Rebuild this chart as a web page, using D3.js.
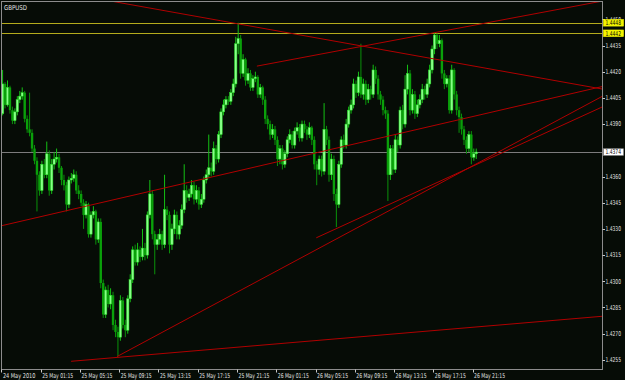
<!DOCTYPE html>
<html>
<head>
<meta charset="utf-8">
<title>GBPUSD M15</title>
<script src="https://d3js.org/d3.v7.min.js"></script>
<style>
  body { margin: 0; background: #060c06; }
  svg text { font-family: "Liberation Sans Narrow", "DejaVu Sans Condensed", sans-serif; font-size: 6.6px; fill: #e2e2e2; }
</style>
</head>
<body>
<script>
// GBPUSD, 15 minute candles from 24 May 2010 21:15
const symbol = "GBPUSD";
const firstBar = "2010-05-24 21:15";
const lastTime = "2010-05-27 10:32";   // time at the right edge of the plot

const opens = [
  1.4396,1.4413,1.4401,1.4411,1.4398,1.4392,1.4397,1.4404,1.4406,1.4408,
  1.4393,1.4387,1.4385,1.4376,1.4369,1.4361,1.4352,1.4367,1.4361,1.4373,
  1.4352,1.4367,1.4370,1.4371,1.4365,1.4358,1.4355,1.4344,1.4358,1.4359,
  1.4361,1.4352,1.4350,1.4345,1.4338,1.4344,1.4327,1.4338,1.4340,1.4324,
  1.4334,1.4299,1.4281,1.4295,1.4287,1.4292,1.4275,1.4271,1.4268,1.4289,
  1.4275,1.4272,1.4290,1.4301,1.4318,1.4311,1.4318,1.4314,1.4319,1.4315,
  1.4338,1.4350,1.4327,1.4321,1.4324,1.4327,1.4321,1.4341,1.4338,1.4321,
  1.4330,1.4338,1.4327,1.4332,1.4341,1.4352,1.4348,1.4350,1.4355,1.4347,
  1.4352,1.4344,1.4347,1.4358,1.4361,1.4365,1.4363,1.4376,1.4370,1.4384,
  1.4397,1.4401,1.4404,1.4403,1.4408,1.4413,1.4436,1.4439,1.4419,1.4427,
  1.4415,1.4419,1.4411,1.4416,1.4417,1.4407,1.4411,1.4404,1.4393,1.4390,
  1.4384,1.4387,1.4381,1.4370,1.4376,1.4367,1.4373,1.4381,1.4384,1.4378,
  1.4386,1.4388,1.4382,1.4390,1.4387,1.4384,1.4388,1.4381,1.4367,1.4364,
  1.4370,1.4363,1.4387,1.4381,1.4361,1.4370,1.4350,1.4344,1.4367,1.4381,
  1.4378,1.4390,1.4398,1.4401,1.4413,1.4408,1.4417,1.4407,1.4413,1.4404,
  1.4410,1.4407,1.4421,1.4416,1.4407,1.4404,1.4398,1.4396,1.4361,1.4376,
  1.4364,1.4381,1.4378,1.4398,1.4390,1.4410,1.4419,1.4398,1.4407,1.4396,
  1.4401,1.4404,1.4410,1.4407,1.4413,1.4421,1.4433,1.4441,1.4436,1.4438,
  1.4419,1.4413,1.4416,1.4398,1.4421,1.4407,1.4398,1.4394,1.4387,1.4381,
  1.4376,1.4384,1.4371,1.4373
];
const highs = [
  1.4421,1.4414,1.4415,1.4412,1.4400,1.4399,1.4406,1.4409,1.4411,1.4409,
  1.4395,1.4408,1.4387,1.4378,1.4371,1.4363,1.4369,1.4370,1.4380,1.4375,
  1.4370,1.4374,1.4376,1.4373,1.4366,1.4361,1.4357,1.4360,1.4362,1.4364,
  1.4363,1.4355,1.4352,1.4347,1.4346,1.4345,1.4340,1.4343,1.4341,1.4336,
  1.4336,1.4301,1.4297,1.4298,1.4296,1.4294,1.4278,1.4274,1.4292,1.4291,
  1.4278,1.4292,1.4304,1.4320,1.4321,1.4322,1.4320,1.4330,1.4322,1.4340,
  1.4358,1.4352,1.4329,1.4327,1.4330,1.4329,1.4361,1.4343,1.4340,1.4333,
  1.4341,1.4340,1.4335,1.4344,1.4367,1.4355,1.4353,1.4358,1.4357,1.4355,
  1.4354,1.4350,1.4360,1.4364,1.4384,1.4368,1.4380,1.4378,1.4386,1.4399,
  1.4404,1.4406,1.4406,1.4410,1.4416,1.4440,1.4448,1.4441,1.4430,1.4428,
  1.4422,1.4421,1.4418,1.4420,1.4418,1.4413,1.4412,1.4406,1.4395,1.4392,
  1.4390,1.4389,1.4383,1.4378,1.4378,1.4375,1.4383,1.4387,1.4386,1.4388,
  1.4391,1.4390,1.4392,1.4392,1.4389,1.4391,1.4389,1.4383,1.4369,1.4372,
  1.4372,1.4402,1.4389,1.4383,1.4373,1.4372,1.4353,1.4369,1.4383,1.4384,
  1.4393,1.4400,1.4404,1.4416,1.4415,1.4420,1.4436,1.4416,1.4415,1.4413,
  1.4412,1.4424,1.4423,1.4418,1.4409,1.4406,1.4400,1.4398,1.4378,1.4378,
  1.4384,1.4383,1.4400,1.4401,1.4418,1.4424,1.4421,1.4410,1.4409,1.4404,
  1.4407,1.4413,1.4412,1.4416,1.4424,1.4435,1.4442,1.4442,1.4441,1.4439,
  1.4421,1.4418,1.4418,1.4424,1.4422,1.4409,1.4400,1.4396,1.4389,1.4383,
  1.4386,1.4386,1.4376,1.4376
];
const lows = [
  1.4395,1.4399,1.4400,1.4396,1.4390,1.4390,1.4395,1.4402,1.4404,1.4391,
  1.4385,1.4383,1.4374,1.4367,1.4340,1.4349,1.4350,1.4359,1.4359,1.4349,
  1.4350,1.4364,1.4368,1.4362,1.4355,1.4352,1.4340,1.4342,1.4356,1.4357,
  1.4350,1.4347,1.4343,1.4330,1.4336,1.4325,1.4325,1.4336,1.4321,1.4322,
  1.4296,1.4279,1.4279,1.4285,1.4284,1.4272,1.4268,1.4257,1.4266,1.4273,
  1.4268,1.4270,1.4288,1.4299,1.4309,1.4309,1.4311,1.4312,1.4312,1.4313,
  1.4336,1.4324,1.4304,1.4318,1.4321,1.4318,1.4319,1.4335,1.4316,1.4318,
  1.4327,1.4324,1.4324,1.4330,1.4339,1.4345,1.4346,1.4348,1.4344,1.4345,
  1.4341,1.4342,1.4345,1.4356,1.4359,1.4360,1.4361,1.4367,1.4368,1.4382,
  1.4395,1.4399,1.4401,1.4401,1.4406,1.4411,1.4430,1.4416,1.4417,1.4412,
  1.4413,1.4409,1.4409,1.4414,1.4405,1.4405,1.4401,1.4390,1.4387,1.4381,
  1.4382,1.4378,1.4366,1.4367,1.4364,1.4365,1.4371,1.4379,1.4376,1.4376,
  1.4384,1.4380,1.4380,1.4385,1.4381,1.4382,1.4378,1.4364,1.4355,1.4361,
  1.4360,1.4361,1.4378,1.4357,1.4358,1.4346,1.4331,1.4342,1.4365,1.4376,
  1.4376,1.4388,1.4396,1.4399,1.4405,1.4406,1.4405,1.4404,1.4401,1.4402,
  1.4404,1.4405,1.4413,1.4404,1.4401,1.4395,1.4393,1.4346,1.4358,1.4361,
  1.4362,1.4374,1.4376,1.4387,1.4388,1.4407,1.4395,1.4396,1.4393,1.4394,
  1.4399,1.4402,1.4404,1.4405,1.4411,1.4419,1.4430,1.4433,1.4434,1.4416,
  1.4410,1.4411,1.4396,1.4396,1.4404,1.4395,1.4385,1.4384,1.4378,1.4373,
  1.4374,1.4367,1.4369,1.4370
];
const closes = [
  1.4413,1.4401,1.4411,1.4398,1.4392,1.4397,1.4404,1.4406,1.4408,1.4393,
  1.4387,1.4385,1.4376,1.4369,1.4361,1.4352,1.4367,1.4361,1.4373,1.4352,
  1.4367,1.4370,1.4371,1.4365,1.4358,1.4355,1.4344,1.4358,1.4359,1.4361,
  1.4352,1.4350,1.4345,1.4338,1.4344,1.4327,1.4338,1.4340,1.4324,1.4334,
  1.4299,1.4281,1.4295,1.4287,1.4292,1.4275,1.4271,1.4268,1.4289,1.4275,
  1.4272,1.4290,1.4301,1.4318,1.4311,1.4318,1.4314,1.4319,1.4315,1.4338,
  1.4350,1.4327,1.4321,1.4324,1.4327,1.4321,1.4341,1.4338,1.4321,1.4330,
  1.4338,1.4327,1.4332,1.4341,1.4352,1.4348,1.4350,1.4355,1.4347,1.4352,
  1.4344,1.4347,1.4358,1.4361,1.4365,1.4363,1.4376,1.4370,1.4384,1.4397,
  1.4401,1.4404,1.4403,1.4408,1.4413,1.4436,1.4439,1.4419,1.4427,1.4415,
  1.4419,1.4411,1.4416,1.4417,1.4407,1.4411,1.4404,1.4393,1.4390,1.4384,
  1.4387,1.4381,1.4370,1.4376,1.4367,1.4373,1.4381,1.4384,1.4378,1.4386,
  1.4388,1.4382,1.4390,1.4387,1.4384,1.4388,1.4381,1.4367,1.4364,1.4370,
  1.4363,1.4387,1.4381,1.4361,1.4370,1.4350,1.4344,1.4367,1.4381,1.4378,
  1.4390,1.4398,1.4401,1.4413,1.4408,1.4417,1.4407,1.4413,1.4404,1.4410,
  1.4407,1.4421,1.4416,1.4407,1.4404,1.4398,1.4396,1.4361,1.4376,1.4364,
  1.4381,1.4378,1.4398,1.4390,1.4410,1.4419,1.4398,1.4407,1.4396,1.4401,
  1.4404,1.4410,1.4407,1.4413,1.4421,1.4433,1.4441,1.4436,1.4438,1.4419,
  1.4413,1.4416,1.4398,1.4421,1.4407,1.4398,1.4394,1.4387,1.4381,1.4376,
  1.4384,1.4371,1.4373,1.4374
];

// trend lines: [bar offset from firstBar, price] at each end
const trendFrom = [[45.1, 1.44603], [104.1, 1.44232], [-0.6, 1.43316], [47.1, 1.42569], [128.3, 1.43249], [28.4, 1.42542]];
const trendTo   = [[245.1, 1.44100], [245.1, 1.44605], [245.1, 1.44116], [245.1, 1.44061], [245.1, 1.44000], [245.1, 1.42800]];

const levels = [1.4448, 1.4442];   // yellow horizontal lines
const bid = 1.4374;

const priceTicks = [1.4255, 1.4270, 1.4285, 1.4300, 1.4315, 1.4330, 1.4345, 1.4360,
                    1.4390, 1.4405, 1.4420, 1.4435, 1.4450];
const timeTicks = ["2010-05-24 21:15", "2010-05-25 01:15", "2010-05-25 05:15", "2010-05-25 09:15",
                   "2010-05-25 13:15", "2010-05-25 17:15", "2010-05-25 21:15", "2010-05-26 01:15",
                   "2010-05-26 05:15", "2010-05-26 09:15", "2010-05-26 13:15", "2010-05-26 17:15",
                   "2010-05-26 21:15"];

const W = 625, H = 380;
const pl = 1.5, pt = 1.5, pr = 602.5, pb = 369.5;

const parse = d3.utcParse("%Y-%m-%d %H:%M");
const t0 = parse(firstBar);
const barTime = b => new Date(t0.getTime() + b * 15 * 60000);

const x = d3.scaleUtc().domain([t0, parse(lastTime)]).range([1.4, 603]);
const y = d3.scaleLinear().domain([1.4255, 1.4450]).range([359.9, 19.3]);

const bars = opens.map((o, i) => ({ t: barTime(i), o: o, h: highs[i], l: lows[i], c: closes[i] }));

const svg = d3.select("body").append("svg")
    .attr("width", W)
    .attr("height", H)
    .style("display", "block")
    .style("background", "#060c06");

svg.append("clipPath").attr("id", "plot")
  .append("rect").attr("x", pl).attr("y", pt).attr("width", pr - pl).attr("height", pb - pt);

const plot = svg.append("g").attr("clip-path", "url(#plot)");

// horizontal levels
plot.selectAll(".lvl").data(levels).enter().append("line")
    .attr("x1", pl).attr("x2", pr)
    .attr("y1", d => Math.round(y(d)) + 0.5).attr("y2", d => Math.round(y(d)) + 0.5)
    .attr("stroke", "#b4ac1c").attr("stroke-width", 1);

plot.append("line")
    .attr("x1", pl).attr("x2", pr)
    .attr("y1", Math.round(y(bid)) + 0.5).attr("y2", Math.round(y(bid)) + 0.5)
    .attr("stroke", "#7c7c7c").attr("stroke-width", 1);

// candles
const candle = plot.append("g").selectAll("g").data(bars).enter().append("g");

candle.append("line")
    .attr("x1", d => x(d.t) + 1.2).attr("x2", d => x(d.t) + 1.2)
    .attr("y1", d => y(d.h)).attr("y2", d => y(d.l))
    .attr("stroke", d => d.c >= d.o ? "#14c014" : "#0a920a")
    .attr("stroke-width", 1);

candle.append("rect")
    .attr("x", d => x(d.t))
    .attr("width", 2.4)
    .attr("y", d => y(Math.max(d.o, d.c)))
    .attr("height", d => Math.max(1, Math.abs(y(d.o) - y(d.c))))
    .attr("fill", d => d.c >= d.o ? "#88ff88" : "#0aa00a")
    .attr("stroke", d => d.c >= d.o ? "#22dd22" : "none")
    .attr("stroke-width", 0.5);

// trend lines
plot.selectAll(".trend").data(trendFrom).enter().append("line")
    .attr("x1", d => x(barTime(d[0]))).attr("y1", d => y(d[1]))
    .attr("x2", (d, i) => x(barTime(trendTo[i][0]))).attr("y2", (d, i) => y(trendTo[i][1]))
    .attr("stroke", "#b00000").attr("stroke-width", 1);

// frame
svg.append("rect")
    .attr("x", pl).attr("y", pt).attr("width", pr - pl).attr("height", pb - pt)
    .attr("fill", "none").attr("stroke", "#8c8c8c").attr("stroke-width", 1);

svg.append("text").attr("x", 4).attr("y", 9.5)
    .attr("textLength", 23).attr("lengthAdjust", "spacingAndGlyphs")
    .text(symbol);

// price axis
const yAxis = svg.append("g");
yAxis.selectAll("line").data(priceTicks).enter().append("line")
    .attr("x1", pr).attr("x2", pr + 2.5)
    .attr("y1", d => Math.round(y(d)) + 0.5).attr("y2", d => Math.round(y(d)) + 0.5)
    .attr("stroke", "#c8c8c8");
yAxis.selectAll("text").data(priceTicks).enter().append("text")
    .attr("x", 605.5).attr("y", d => y(d)).attr("dy", "0.35em")
    .attr("textLength", 15.5).attr("lengthAdjust", "spacingAndGlyphs")
    .text(d => d.toFixed(4));

// level and bid boxes on the price axis
const boxes = levels.map(v => ({ v: v, fill: "#f4f400", stroke: "#f4f400" }))
    .concat([{ v: bid, fill: "#ffffff", stroke: "#909090" }]);
const box = svg.append("g").selectAll("g").data(boxes).enter().append("g");
box.append("rect")
    .attr("x", 603.5).attr("y", d => y(d.v) - 3.3)
    .attr("width", 20).attr("height", 6.6)
    .attr("fill", d => d.fill).attr("stroke", d => d.stroke).attr("stroke-width", 0.6);
box.append("text")
    .attr("x", 605.5).attr("y", d => y(d.v)).attr("dy", "0.35em")
    .attr("textLength", 15.5).attr("lengthAdjust", "spacingAndGlyphs")
    .style("fill", "#000")
    .text(d => d.v.toFixed(4));

// time axis
const fmtFirst = d3.utcFormat("%d %b %Y");
const fmt = d3.utcFormat("%d %b %H:%M");
const xAxis = svg.append("g");
xAxis.selectAll("line").data(timeTicks).enter().append("line")
    .attr("x1", d => Math.round(x(parse(d))) + 0.5).attr("x2", d => Math.round(x(parse(d))) + 0.5)
    .attr("y1", pb).attr("y2", pb + 3)
    .attr("stroke", "#c8c8c8");
xAxis.selectAll("text").data(timeTicks).enter().append("text")
    .attr("x", d => x(parse(d)) + 1.5).attr("y", 377.5)
    .attr("textLength", (d, i) => i === 0 ? 32.5 : 31)
    .attr("lengthAdjust", "spacingAndGlyphs")
    .text((d, i) => i === 0 ? fmtFirst(parse(d)) : fmt(parse(d)));
</script>
</body>
</html>
